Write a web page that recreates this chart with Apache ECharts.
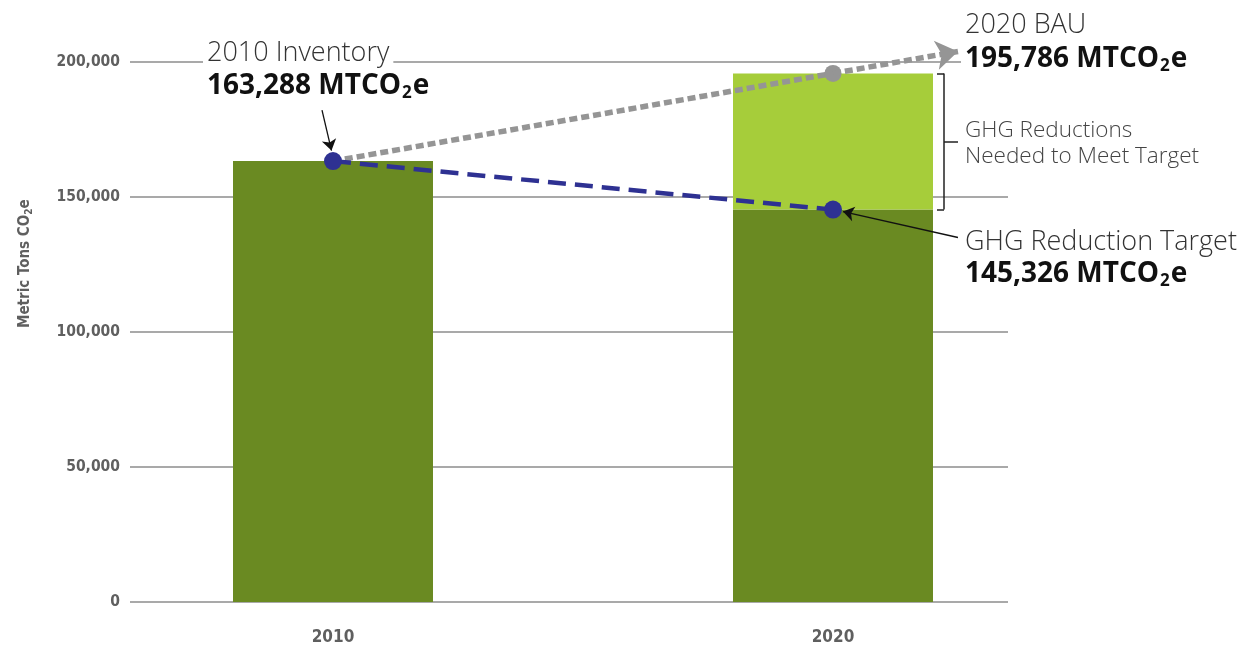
<!DOCTYPE html>
<html><head><meta charset="utf-8">
<script src="https://cdn.jsdelivr.net/npm/echarts@6/dist/echarts.min.js"></script>
<style>html,body{margin:0;padding:0;background:#fff}#c{width:1254px;height:648px}</style>
</head><body><div id="c"></div>
<script>
// ---- data ----
const categories = ['2010', '2020'];
const inventory = [163288, null];          // 2010 inventory
const target = [null, 145326];             // 2020 reduction target
const bau = [null, 195786];                // 2020 business as usual
const yTicks = [0, 50000, 100000, 150000, 200000];

const inv2010 = inventory[0], tgt2020 = target[1], bau2020 = bau[1];
const baseValues = [inv2010, tgt2020];
const reductionValues = ['-', bau2020 - tgt2020];

const LIGHT = '"Open Sans", "Noto Sans", sans-serif';
const COND = '"DejaVu Sans Condensed", "Liberation Sans Narrow", sans-serif';

// extension of BAU trend for the arrow head (x in category index units)
const extX = 1.25;
const extY = inv2010 + (bau2020 - inv2010) * extX;

const chart = echarts.init(document.getElementById('c'));

function sub(size, weight, color) {
  return {
    a: {fontSize: size, fontWeight: weight, fontFamily: LIGHT, fill: color, lineHeight: size + 4},
    s: {fontSize: Math.round(size * 0.62), fontWeight: weight, fontFamily: LIGHT, fill: color,
        verticalAlign: 'bottom', lineHeight: 5, padding: [0, 1, 0, 1]}
  };
}

function mtco(v) { return '{a|' + v.toLocaleString('en-US') + ' MTCO}{s|2}{a|e}'; }

const option = {
  animation: false,
  backgroundColor: '#fff',
  grid: [
    {left: 130, right: 246, top: 62, bottom: 46},
    {left: 83, width: 1000, top: 8, bottom: 46}
  ],
  xAxis: [
    {gridIndex: 0, type: 'value', min: 0, max: 1, show: false},
    {gridIndex: 1, type: 'category', data: categories,
      axisLine: {show: false}, axisTick: {show: false},
      axisLabel: {margin: 27, fontFamily: COND, fontWeight: 'bold', fontSize: 17, color: '#5f5f5f'}},
    {gridIndex: 1, type: 'value', min: -0.5, max: 1.5, show: false}
  ],
  yAxis: [
    {gridIndex: 0, type: 'value', min: yTicks[0], max: yTicks[yTicks.length - 1], interval: yTicks[1] - yTicks[0],
      axisLine: {show: false}, axisTick: {show: false},
      axisLabel: {margin: 10, fontFamily: COND, fontWeight: 'bold', fontSize: 15.5, color: '#5f5f5f',
        formatter: v => v.toLocaleString('en-US')},
      splitLine: {lineStyle: {color: '#8c8c8c', width: 1.5}}},
    {gridIndex: 1, type: 'value', min: 0, max: 220000, show: false}
  ],
  series: [
    {type: 'bar', xAxisIndex: 1, yAxisIndex: 1, stack: 's', data: baseValues, barWidth: 200,
      itemStyle: {color: '#6A8A22'}, z: 2},
    {type: 'bar', xAxisIndex: 1, yAxisIndex: 1, stack: 's', data: reductionValues, barWidth: 200,
      itemStyle: {color: '#A6CD3A'}, z: 2},
    {type: 'line', xAxisIndex: 2, yAxisIndex: 1, z: 3,
      data: [{value: [0, inv2010], symbol: 'none'}, {value: [1, bau2020]}],
      symbol: 'circle', symbolSize: 17, itemStyle: {color: '#959595'},
      lineStyle: {color: '#959595', width: 5.5, type: [8, 4]},
      markLine: {silent: true, symbol: ['none', 'arrow'], symbolSize: 22,
        label: {show: false},
        itemStyle: {color: '#959595'},
        lineStyle: {color: '#959595', width: 5.5, type: [8, 4]},
        data: [[{coord: [1, bau2020]}, {coord: [extX, extY]}]]}},
    {type: 'line', xAxisIndex: 2, yAxisIndex: 1, z: 4,
      data: [[0, inv2010], [1, tgt2020]],
      symbol: 'circle', symbolSize: 18, itemStyle: {color: '#2E3192'},
      lineStyle: {color: '#2E3192', width: 4.5, type: [18, 9]}},
    {type: 'line', xAxisIndex: 2, yAxisIndex: 1, z: 5, data: [],
      markLine: {silent: true, symbol: ['none', 'arrow'], symbolSize: 11,
        label: {show: false},
        itemStyle: {color: '#111'},
        lineStyle: {color: '#111', width: 1.3, type: 'solid'},
        data: [
          [{coord: [-0.022, 182200]}, {coord: [-0.003, 167200]}],
          [{coord: [1.25, 135000]}, {coord: [1.02, 144600]}]
        ]}},
    {type: 'line', xAxisIndex: 2, yAxisIndex: 1, z: 5, data: [],
      markLine: {silent: true, symbol: 'none', label: {show: false},
        lineStyle: {color: '#222', width: 1.5, type: 'solid'},
        data: [
          [{coord: [1.222, bau2020]}, {coord: [1.222, tgt2020]}],
          [{coord: [1.208, bau2020]}, {coord: [1.222, bau2020]}],
          [{coord: [1.208, tgt2020]}, {coord: [1.222, tgt2020]}],
          [{coord: [1.222, (bau2020 + tgt2020) / 2]}, {coord: [1.25, (bau2020 + tgt2020) / 2]}]
        ]}}
  ],
  graphic: [
    {type: 'text', left: 203, top: 40, z: 100,
      style: {text: '2010 Inventory', fontFamily: LIGHT, fontWeight: 300, fontSize: 27, fill: '#333',
        backgroundColor: '#fff', padding: [0, 4]}},
    {type: 'text', left: 207, top: 72, z: 100,
      style: {text: mtco(inv2010), rich: sub(28, 'bold', '#111')}},
    {type: 'text', left: 965, top: 12, z: 100,
      style: {text: '2020 BAU', fontFamily: LIGHT, fontWeight: 300, fontSize: 27, fill: '#333'}},
    {type: 'text', left: 961, top: 43, z: 100,
      style: {text: mtco(bau2020), rich: sub(28, 'bold', '#111'), backgroundColor: '#fff', padding: [0, 4]}},
    {type: 'text', left: 965, top: 118, z: 100,
      style: {text: 'GHG Reductions\nNeeded to Meet Target', fontFamily: LIGHT, fontWeight: 300, fontSize: 22.5,
        lineHeight: 26, fill: '#444'}},
    {type: 'text', left: 965, top: 229, z: 100,
      style: {text: 'GHG Reduction Target', fontFamily: LIGHT, fontWeight: 300, fontSize: 27, fill: '#333'}},
    {type: 'text', left: 965, top: 260, z: 100,
      style: {text: mtco(tgt2020), rich: sub(28, 'bold', '#111')}},
    {type: 'text', x: 16, y: 328, rotation: Math.PI / 2, z: 100,
      style: {text: '{a|Metric Tons CO}{s|2}{a|e}',
        rich: {
          a: {fontFamily: COND, fontWeight: 'bold', fontSize: 15, fill: '#5f5f5f', lineHeight: 18},
          s: {fontFamily: COND, fontWeight: 'bold', fontSize: 10, fill: '#5f5f5f', lineHeight: 4, verticalAlign: 'bottom'}
        }}}
  ]
};
chart.setOption(option);
</script>
</body></html>
